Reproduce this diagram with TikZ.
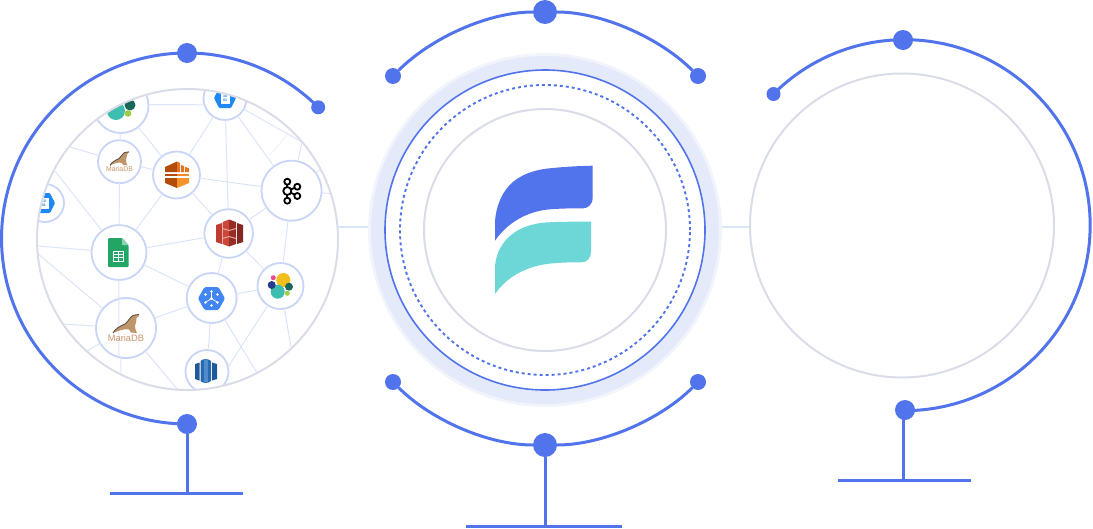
\documentclass[tikz,border=0pt]{standalone}
\usepackage{fontspec}
\setmainfont{Liberation Sans}
\definecolor{fblue}{HTML}{5174EC}
\definecolor{fteal}{HTML}{6DD6D6}
\definecolor{fband}{HTML}{E5EAFA}
\definecolor{fhalo}{HTML}{F2F4FC}
\definecolor{frim}{HTML}{DADDE8}
\definecolor{fedge}{HTML}{DCE4F9}
\definecolor{fnode}{HTML}{C8D5F6}
\definecolor{ftan}{HTML}{C9936A}
\tikzset{
  hubnode/.style={circle,draw=fnode,fill=white,line width=1.8pt,inner sep=0pt,outer sep=0pt,minimum size=#1},
  rimnode/.style={circle,draw=frim,line width=2pt,inner sep=0pt,outer sep=0pt,minimum size=#1},
  dotnode/.style={circle,fill=fblue,inner sep=0pt,outer sep=0pt,minimum size=#1},
  arcline/.style={draw=fblue,line width=3pt},
  standline/.style={draw=fblue,line width=3pt},
  edgeline/.style={draw=fedge,line width=1pt},
  linkline/.style={draw=fedge,line width=1.8pt},
  tinydigit/.style={inner sep=0pt,text=cyan!70!blue,font=\fontsize{3.6}{3.8}\selectfont\bfseries,align=center},
}
\newcommand{\bqicon}[3]{%
  \begin{scope}[shift={(#1,#2)}]
    \fill[rounded corners=1pt,fill={rgb,255:red,30;green,136;blue,245}] (-11,0) -- (-6,-10) -- (6,-10) -- (11,0) -- (6,10) -- (-6,10) -- cycle;
    \fill[white] (-4.5,-5) rectangle (4.5,5.5);
    \node[tinydigit] (#3) at (0,0.3) {10\\01};
  \end{scope}}
\newcommand{\sealicon}[3]{%
  \begin{scope}[shift={(#1,#2)},scale=#3]
    \fill[fill={rgb,255:red,190;green,150;blue,108}]
      (-13,5) .. controls (-11,1) and (-6,-2) .. (-1,-4) .. controls (2,-6) and (4,-11) .. (7,-12.5)
      .. controls (9,-13.5) and (11,-13) .. (13,-13.5) .. controls (13,-12) and (12,-10.5) .. (10.5,-10)
      .. controls (10.5,-7) and (10,-5) .. (9,-2) .. controls (9,1) and (10,3) .. (11,5) -- (5,4.5)
      .. controls (4,3) and (3.5,2) .. (3,1.5)
      .. controls (-3,0.5) and (-8,3) .. (-13,5) -- cycle;
    \draw[draw={rgb,255:red,95;green,80;blue,68},line width=.9pt]
      (-13,5) .. controls (-11,1) and (-6,-2) .. (-1,-4) .. controls (2,-6) and (4,-11) .. (7,-12.5)
      .. controls (9,-13.5) and (11,-13) .. (13,-13.5);
  \end{scope}}
\newcommand{\elasticfull}[2]{%
  \begin{scope}[shift={(#1,#2)}]
    \fill[fill={rgb,255:red,243;green,190;blue,25}] (2.8,-6) circle (7);
    \fill[fill={rgb,255:red,62;green,190;blue,176}] (-2.8,5.7) circle (7);
    \fill[fill={rgb,255:red,26;green,104;blue,90}] (8.5,0.7) circle (4);
    \fill[fill={rgb,255:red,160;green,205;blue,64}] (6.8,7.3) circle (2.5);
    \fill[fill={rgb,255:red,44;green,60;blue,140}] (-8.8,-1) circle (4);
    \fill[fill={rgb,255:red,236;green,72;blue,140}] (-7.2,-8.3) circle (2.5);
  \end{scope}}
\begin{document}
\begin{tikzpicture}[x=1pt,y=-1pt]
\useasboundingbox (0,0) rectangle (1093,528);
% ---------- left disc contents
\begin{scope}
  \clip (187.5,239.5) circle (150.5);
  \node[hubnode=55pt] (et) at (121,105.5) {};
  \node[hubnode=43pt] (bqt) at (225,98.5) {};
  \node[hubnode=38pt] (bql) at (45,203) {};
  \node[hubnode=43pt] (mds) at (119.5,161.7) {};
  \node[hubnode=47pt] (aws) at (176.5,175) {};
  \node[hubnode=60pt] (kaf) at (291.5,190.7) {};
  \node[hubnode=48.6pt] (s3) at (228.7,233.5) {};
  \node[hubnode=55pt] (sht) at (119,252.5) {};
  \node[hubnode=60pt] (mdb) at (126,328) {};
  \node[hubnode=50pt] (hex) at (211.7,298) {};
  \node[hubnode=46pt] (ela) at (280.5,286) {};
  \node[hubnode=43pt] (red) at (207,371.5) {};
  % free ends on the rim
  \coordinate (r1) at (70,147);
  \coordinate (r2) at (55,171);
  \coordinate (r3) at (302,142);
  \coordinate (r4) at (321,169);
  \coordinate (r5) at (338,194);
  \coordinate (r6) at (37,246);
  \coordinate (r7) at (37,253);
  \coordinate (r8) at (63,324);
  \coordinate (r9) at (87,351);
  \coordinate (r10) at (121,376);
  \coordinate (r11) at (178,390);
  \coordinate (r12) at (257,373);
  \coordinate (r13) at (228,367);
  \coordinate (r14) at (291,347);
  \coordinate (f1) at (287,135);
  \coordinate (f2) at (270,155);
  % edges
  \draw[edgeline] (mds) -- (et);
  \draw[edgeline] (et) -- (aws);
  \draw[edgeline] (mds) -- (aws);
  \draw[edgeline] (mds) -- (sht);
  \draw[edgeline] (aws) -- (sht);
  \draw[edgeline] (mds) -- (r1);
  \draw[edgeline] (et.2) -- (bqt.197.6);
  \draw[edgeline] (sht) -- (r2);
  \draw[edgeline] (bqt) -- (aws);
  \draw[edgeline] (bqt) -- (s3);
  \draw[edgeline] (bqt) -- (kaf);
  \draw[edgeline] (bqt) -- (r3);
  \draw[edgeline] (kaf) -- (r3);
  \draw[edgeline,opacity=.45] (f1) -- (f2);
  \draw[edgeline] (kaf) -- (r4);
  \draw[edgeline] (kaf) -- (r5);
  \draw[edgeline] (aws) -- (kaf);
  \draw[edgeline] (aws) -- (s3);
  \draw[edgeline] (s3) -- (kaf);
  \draw[edgeline] (kaf) -- (ela);
  \draw[edgeline] (sht) -- (r6);
  \draw[edgeline] (mdb) -- (r7);
  \draw[edgeline] (mdb) -- (r8);
  \draw[edgeline] (mdb) -- (r9);
  \draw[edgeline] (mdb.260.4) -- (r10);
  \draw[edgeline] (mdb) -- (r11);
  \draw[edgeline] (sht.270) -- (mdb.256.5);
  \draw[edgeline] (sht) -- (s3);
  \draw[edgeline] (sht) -- (hex);
  \draw[edgeline] (mdb) -- (hex);
  \draw[edgeline] (s3) -- (hex);
  \draw[edgeline] (s3) -- (ela);
  \draw[edgeline] (hex) -- (ela);
  \draw[edgeline] (hex) -- (red);
  \draw[edgeline] (hex) -- (r12);
  \draw[edgeline] (ela) -- (r13);
  \draw[edgeline] (ela) -- (r14);
  % elastic, clipped by the rim
  \fill[fill={rgb,255:red,62;green,190;blue,176}] (116,111) circle (9);
  \fill[fill={rgb,255:red,26;green,104;blue,90}] (130,105) circle (5.5);
  \fill[fill={rgb,255:red,160;green,205;blue,64}] (128,113.5) circle (3.3);
  \bqicon{225}{98}{dgt}
  \bqicon{44}{203}{dgl}
  % redshift
  \fill[fill={rgb,255:red,32;green,90;blue,150}] (195,364) -- (199.5,362.5) -- (199.5,380.5) -- (195,379) -- cycle;
  \fill[fill={rgb,255:red,40;green,105;blue,175}] (200.5,361) .. controls (202,358.5) and (209,358.5) .. (211,361) -- (211,381) .. controls (209,383.5) and (202,383.5) .. (200.5,381) -- cycle;
  \fill[fill={rgb,255:red,80;green,140;blue,205}] (203.5,360) -- (208,360) -- (208,382) -- (203.5,382) -- cycle;
  \fill[fill={rgb,255:red,32;green,90;blue,150}] (212,362.5) -- (217,364) -- (217,379) -- (212,380.5) -- cycle;
\end{scope}
\elasticfull{280.5}{286}
% mariadb small
\sealicon{119.5}{161.7}{.73}
\node[inner sep=0pt,text=ftan,font=\fontsize{6.9}{7}\selectfont] (mdsl) at (119.5,169.3) {MariaDB};
% mariadb big
\sealicon{126}{328}{1}
\node[inner sep=0pt,text=ftan,font=\fontsize{9.3}{10}\selectfont] (mdbl) at (126,338.5) {MariaDB};
% aws orange
\fill[fill={rgb,255:red,178;green,76;blue,10}] (165,172) -- (165,167) -- (177,161.5) -- (177,172) -- cycle;
\fill[fill={rgb,255:red,226;green,116;blue,32}] (177,161.5) -- (180,163) -- (180,172) -- (177,172) -- cycle;
\fill[fill={rgb,255:red,226;green,116;blue,32}] (181,165) -- (184,166) -- (184,172) -- (181,172) -- cycle;
\fill[fill={rgb,255:red,226;green,116;blue,32}] (185,167) -- (189,168) -- (189,172) -- (185,172) -- cycle;
\fill[fill={rgb,255:red,178;green,76;blue,10}] (165,174) -- (177,174) -- (177,176) -- (165,176) -- cycle;
\fill[fill={rgb,255:red,240;green,140;blue,40}] (177,174) -- (189,174) -- (189,176) -- (177,176) -- cycle;
\fill[fill={rgb,255:red,178;green,76;blue,10}] (165,178) -- (177,178) -- (177,188) -- (165,183) -- cycle;
\fill[fill={rgb,255:red,245;green,148;blue,44}] (177,178) -- (189,178) -- (189,183) -- (177,188) -- cycle;
% kafka
\begin{scope}[draw=black,line width=1.8pt]
  \draw (287.3,181.7) -- (287.3,200.7);
  \draw (287.3,191) -- (297.3,186.7);
  \draw (287.3,191) -- (297.3,196);
  \draw[fill=white] (287.3,181.7) circle (3);
  \draw[fill=white] (287.3,191) circle (4);
  \draw[fill=white] (287.3,200.7) circle (3);
  \draw[fill=white] (297.3,186.7) circle (3);
  \draw[fill=white] (297.3,196) circle (3);
\end{scope}
% s3
\fill[fill={rgb,255:red,190;green,60;blue,50}] (216,225) -- (222,223) -- (222,244) -- (216,242) -- cycle;
\fill[fill={rgb,255:red,130;green,40;blue,34}] (237,223) -- (243,225) -- (243,242) -- (237,244) -- cycle;
\fill[fill={rgb,255:red,205;green,70;blue,58}] (222.5,222) -- (229,219.5) -- (229,246.5) -- (222.5,244) -- cycle;
\fill[fill={rgb,255:red,150;green,46;blue,38}] (229,219.5) -- (236,222) -- (236,244) -- (229,246.5) -- cycle;
\fill[fill={rgb,255:red,232;green,170;blue,160}] (222.5,228) -- (229,230) -- (236,228) -- (236,229) -- (229,231) -- (222.5,229) -- cycle;
\fill[fill={rgb,255:red,232;green,170;blue,160}] (222.5,238) -- (229,236) -- (236,238) -- (236,239) -- (229,237) -- (222.5,239) -- cycle;
% hex
\fill[rounded corners=1.5pt,fill={rgb,255:red,66;green,133;blue,244}] (198,298.5) -- (204.5,287) -- (218.5,287) -- (225,298.5) -- (218.5,310) -- (204.5,310) -- cycle;
\begin{scope}[draw=white,fill=white,line width=.7pt]
  \draw (211.5,298.5) -- (211.5,292);
  \draw (211.5,298.5) -- (206,302);
  \draw (211.5,298.5) -- (217,302);
  \fill (211.5,298.5) circle (1.6);
  \fill (211.5,291.5) circle (1.3);
  \fill (211.5,305.5) circle (1.3);
  \fill (205.5,294.5) circle (1.3);
  \fill (217.5,294.5) circle (1.3);
  \fill (205.5,302.5) circle (1.3);
  \fill (217.5,302.5) circle (1.3);
\end{scope}
% sheets
\fill[rounded corners=1pt,fill={rgb,255:red,35;green,165;blue,102}] (108,238) -- (122,238) -- (128.5,245) -- (128.5,267) -- (108,267) -- cycle;
\fill[fill={rgb,255:red,142;green,209;blue,177}] (122,238) -- (128.5,245) -- (122,245) -- cycle;
\draw[white,line width=1pt] (113.5,251.5) rectangle (123,261);
\draw[white,line width=1pt] (113.5,254.7) -- (123,254.7) (113.5,257.9) -- (123,257.9) (118.2,251.5) -- (118.2,261);
% ---------- rims
\node[rimnode=301pt] (leftrim) at (187.5,239.5) {};
\node[rimnode=304pt] (rightrim) at (902,225.5) {};
% ---------- centre rings
\node[circle,fill=fhalo,inner sep=0pt,outer sep=0pt,minimum size=354pt] (halo) at (545,230) {};
\node[circle,fill=fband,inner sep=0pt,outer sep=0pt,minimum size=348pt] (band) at (545,230) {};
\node[circle,draw=fblue,fill=white,line width=1.6pt,inner sep=0pt,outer sep=0pt,minimum size=320pt] (ringa) at (545,230) {};
\node[circle,draw=fblue,line width=1.9pt,dash pattern=on 3pt off 3pt,inner sep=0pt,outer sep=0pt,minimum size=290pt] (ringb) at (545,230) {};
\node[circle,draw=frim,line width=2pt,inner sep=0pt,outer sep=0pt,minimum size=242pt] (ringc) at (545,230) {};
% links between the discs
\coordinate (ja) at (338,227);
\coordinate (jb) at (368,227);
\coordinate (jc) at (722,227);
\coordinate (jd) at (750,227);
\draw[linkline] (ja) -- (jb);
\draw[linkline] (jc) -- (jd);
% ---------- logo
\fill[fblue] (495,240.7) -- (495,222) .. controls (496,205) and (503,190) .. (513.3,181.7)
  .. controls (525,172) and (540,169) .. (553,168) .. controls (568,166.5) and (580,166) .. (592.7,165.7)
  -- (592.7,198.3) .. controls (592.7,204) and (588,208.3) .. (583.3,208.3)
  .. controls (570,208.3) and (560,208.5) .. (550,209.3) .. controls (528,211) and (508,222) .. (495,240.7) -- cycle;
\fill[fteal] (495,294) -- (495,266.7) .. controls (496,252) and (503,241) .. (513,233.5)
  .. controls (522,227) and (532,224) .. (543,222.7) .. controls (558,221.5) and (575,221.7) .. (591,221.7)
  -- (591,251.7) .. controls (591,258) and (587,262.3) .. (581.7,262.3)
  .. controls (570,262.3) and (562,262.5) .. (553,263.3) .. controls (530,265) and (508,275) .. (495,294) -- cycle;
% ---------- left frame
\node[dotnode=20pt] (la) at (187,53) {};
\node[dotnode=14pt] (lb) at (318.2,107.3) {};
\node[dotnode=20pt] (lc) at (187,424) {};
\coordinate (lf) at (187,493);
\coordinate (lg) at (110,493);
\coordinate (lh) at (243,493);
\draw[arcline] (lb) ++(0,0) arc[start angle=-45,end angle=-270,radius=185.5];
\draw[standline] (lc) -- (lf);
\draw[standline] (lg) -- (lh);
% ---------- top and bottom frames of the centre
\node[dotnode=24pt] (ma) at (545,12) {};
\node[dotnode=16pt] (mb) at (393,76) {};
\node[dotnode=16pt] (mc) at (698,76) {};
\node[dotnode=24pt] (md) at (545,445) {};
\node[dotnode=16pt] (me) at (393,382) {};
\node[dotnode=16pt] (mf) at (698,382) {};
\coordinate (mg) at (545,526);
\coordinate (mh) at (466,526);
\coordinate (mi) at (622,526);
\draw[arcline] (mb) .. controls (431,38) and (488,12) .. (ma);
\draw[arcline] (ma) .. controls (602,12) and (660,38) .. (mc);
\draw[arcline] (me) .. controls (431,420) and (488,445) .. (md);
\draw[arcline] (md) .. controls (602,445) and (660,420) .. (mf);
\draw[standline] (md) -- (mg);
\draw[standline] (mh) -- (mi);
% ---------- right frame
\node[dotnode=20pt] (ra) at (903,40) {};
\node[dotnode=14pt] (rb) at (773.5,94) {};
\node[dotnode=20pt] (rc) at (905,410) {};
\coordinate (re) at (903,410);
\coordinate (rf) at (903,480);
\coordinate (rg) at (838,480);
\coordinate (rh) at (971,480);
\draw[arcline] (rb) arc[start angle=-135,end angle=90,radius=185.5];
\draw[standline] (re) -- (rf);
\draw[standline] (rg) -- (rh);
\end{tikzpicture}
\end{document}
